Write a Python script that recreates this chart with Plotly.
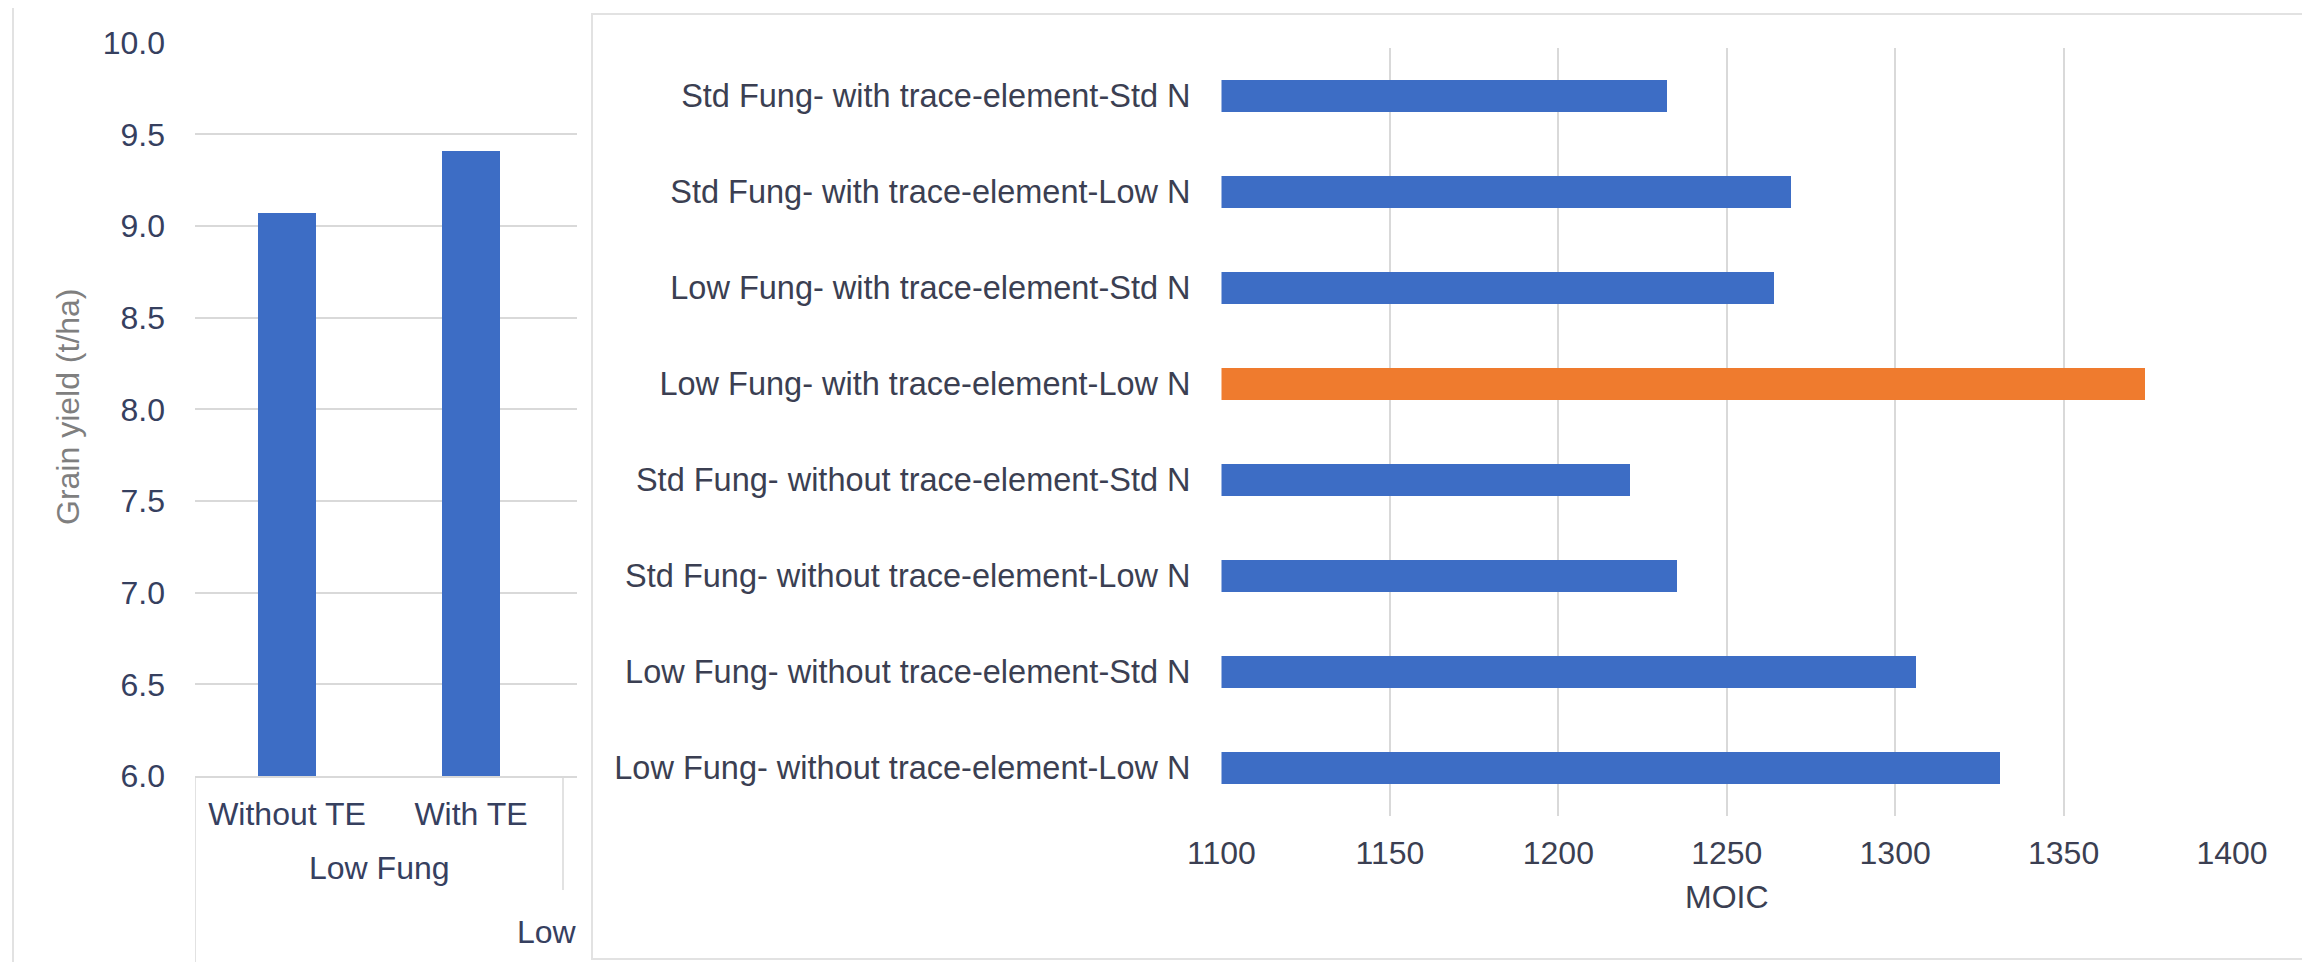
import plotly.graph_objects as go

# ---------------- data ----------------
left_categories = ["Without TE", "With TE"]
left_yield = [9.07, 9.41]
left_group = "Low Fung"
left_outer_fragment = "Low"
left_y_ticks = [6.0, 6.5, 7.0, 7.5, 8.0, 8.5, 9.0, 9.5, 10.0]

right_categories = [
    "Std Fung- with trace-element-Std N",
    "Std Fung- with trace-element-Low N",
    "Low Fung- with trace-element-Std N",
    "Low Fung- with trace-element-Low N",
    "Std Fung- without trace-element-Std N",
    "Std Fung- without trace-element-Low N",
    "Low Fung- without trace-element-Std N",
    "Low Fung- without trace-element-Low N",
]
moic = [1232, 1269, 1264, 1374, 1221, 1235, 1306, 1331]
highlight = "Low Fung- with trace-element-Low N"
right_x_ticks = [1100, 1150, 1200, 1250, 1300, 1350, 1400]

# ---------------- styling ----------------
W, H = 2310, 962
OFF = 8  # page body margin offset
BLUE = "#3D6DC5"
ORANGE = "#EF7B2E"
GRID = "#d9d9d9"
BORDER = "#e2e2e2"
FONT = "Liberation Sans, Arial, sans-serif"
LEFT_TXT = "#36405f"
RIGHT_TXT = "#3b3f52"
FS = 32


def px_x(p):
    return (p - OFF) / W


def px_y(p):
    return 1 - (p - OFF) / H


bar_colors = [ORANGE if c == highlight else BLUE for c in right_categories]

fig = go.Figure()
fig.add_trace(go.Bar(
    x=left_categories, y=left_yield, width=0.31,
    marker=dict(color=BLUE, line=dict(width=0)),
    xaxis="x", yaxis="y", showlegend=False,
))
fig.add_trace(go.Bar(
    y=right_categories, x=moic, orientation="h", width=0.34,
    marker=dict(color=bar_colors, line=dict(width=0)),
    xaxis="x2", yaxis="y2", showlegend=False,
))

left_x0, left_x1 = 195, 577
cat_px = 184.0

fig.update_layout(
    template="none",
    width=W, height=H,
    margin=dict(l=0, r=0, t=0, b=0, pad=0, autoexpand=False),
    paper_bgcolor="white", plot_bgcolor="white",
    font=dict(family=FONT, size=FS, color=RIGHT_TXT),
    xaxis=dict(
        domain=[px_x(left_x0), px_x(left_x1)],
        type="category",
        range=[-0.5, -0.5 + (left_x1 - left_x0) / cat_px],
        showgrid=False, zeroline=False, automargin=False,
        showline=True, linecolor=GRID, linewidth=1.5,
        ticks="", ticklabelstandoff=9,
        tickfont=dict(size=FS, color=LEFT_TXT),
        anchor="y",
    ),
    yaxis=dict(
        domain=[px_y(776), px_y(42.7)],
        range=[6, 10],
        tickvals=left_y_ticks, tickformat=".1f",
        showgrid=True, gridcolor=GRID, gridwidth=1.5,
        zeroline=False, showline=False, automargin=False,
        ticks="", ticklabelstandoff=29,
        tickfont=dict(size=FS, color=LEFT_TXT),
        anchor="x",
    ),
    xaxis2=dict(
        domain=[px_x(1221.5), px_x(2232)],
        range=[1100, 1400],
        tickvals=right_x_ticks,
        showgrid=True, gridcolor=GRID, gridwidth=1.5,
        zeroline=False, showline=False, automargin=False,
        ticks="", ticklabelstandoff=15,
        tickfont=dict(size=FS, color=RIGHT_TXT),
        title=dict(text="MOIC", font=dict(size=FS, color=RIGHT_TXT), standoff=15),
        anchor="y2",
    ),
    yaxis2=dict(
        domain=[px_y(816), px_y(48)],
        type="category",
        categoryorder="array", categoryarray=right_categories,
        autorange="reversed",
        showgrid=False, zeroline=False, showline=False, automargin=False,
        ticks="", ticklabelstandoff=30,
        tickfont=dict(size=32.5, color=RIGHT_TXT),
        anchor="x2",
    ),
    bargap=0.0,
)

annotations = [
    dict(text=left_group, xref="x", yref="paper", x=0.5, y=px_y(868),
         showarrow=False, xanchor="center", yanchor="middle",
         font=dict(size=FS, color=LEFT_TXT)),
    dict(text=left_outer_fragment, xref="paper", yref="paper", x=px_x(579), y=px_y(932),
         showarrow=False, xanchor="right", yanchor="middle",
         font=dict(size=FS, color=LEFT_TXT)),
    dict(text="Grain yield (t/ha)", xref="paper", yref="paper", x=px_x(68), y=px_y(407),
         showarrow=False, xanchor="center", yanchor="middle", textangle=-90,
         font=dict(size=FS, color="#7f7f7f")),
]
fig.update_layout(annotations=annotations)

shapes = [
    # multi-level category dividers (left chart)
    dict(type="line", xref="x", yref="paper", x0=-0.5, x1=-0.5,
         y0=px_y(776), y1=0, line=dict(color=GRID, width=1.5)),
    dict(type="line", xref="x", yref="paper", x0=1.5, x1=1.5,
         y0=px_y(776), y1=px_y(890), line=dict(color=GRID, width=1.5)),
    # left panel frame (cropped)
    dict(type="line", xref="paper", yref="paper", x0=px_x(13), x1=px_x(13),
         y0=px_y(5), y1=0, line=dict(color=BORDER, width=2)),
    dict(type="line", xref="paper", yref="paper", x0=px_x(13), x1=px_x(577),
         y0=px_y(5), y1=px_y(5), line=dict(color=BORDER, width=2)),
    # right panel frame
    dict(type="rect", xref="paper", yref="paper", x0=px_x(592), x1=px_x(2303),
         y0=px_y(959), y1=px_y(14), line=dict(color=BORDER, width=2)),
]
fig.update_layout(shapes=shapes)

fig.write_html("out.html")
